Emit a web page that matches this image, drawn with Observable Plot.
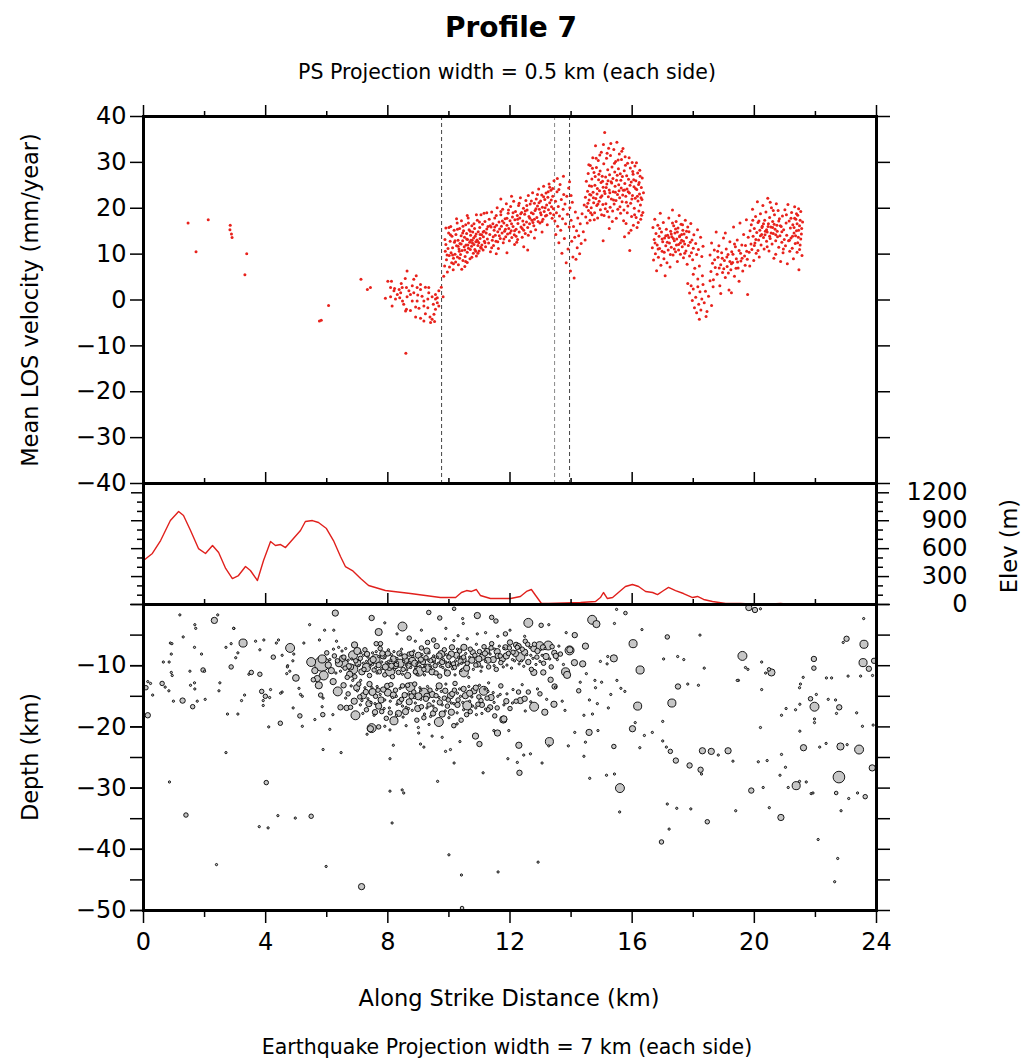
<!DOCTYPE html>
<html><head><meta charset="utf-8">
<script src="https://cdn.jsdelivr.net/npm/d3@7"></script>
<script src="https://cdn.jsdelivr.net/npm/@observablehq/plot@0.6"></script>
<style>
body{margin:0;background:#fff;}
#wrap{position:relative;width:1027px;height:1061px;font-family:"DejaVu Sans",sans-serif;background:#fff;}
#wrap svg{position:absolute;left:0;top:0;overflow:visible;}
</style></head><body><div id="wrap"></div>
<script>
// ---------- text ----------
const titleText = "Profile 7";
const subtitleText = "PS Projection width = 0.5 km (each side)";
const captionText = "Earthquake Projection width = 7 km (each side)";
const xLabel = "Along Strike Distance (km)";
const velLabel = "Mean LOS velocity (mm/year)";
const elevLabel = "Elev (m)";
const depthLabel = "Depth (km)";

// ---------- ticks ----------
const kmLabels = [0,4,8,12,16,20,24];
const kmMinor = [2,6,10,14,18,22];
const velTicks = [-40,-30,-20,-10,0,10,20,30,40];
const elevMajor = [0,300,600,900,1200];
const elevMinor = [100,200,400,500,700,800,1000,1100];
const depthLabels = [-50,-40,-30,-20,-10];
const depthTicks = [-50,-45,-40,-35,-30,-25,-20,-15,-10,-5,0];

// ---------- fault (dashed) lines, km ----------
const faultKm = [9.76, 13.95];
const faultKmLight = [13.46];

// ---------- PS mean LOS velocity [km, mm/yr] ----------
const losWest = [[1.46,16.8],[1.72,10.5],[2.12,17.5],[2.84,16.3],[2.83,15.3],[2.88,14.4],[2.90,13.6],[3.38,10.1],[3.32,5.5],[5.76,-4.6],[5.82,-4.4],[6.06,-1.2],[7.12,4.5],[7.33,2.3],[7.43,2.7]];
const losFault = [[8.00,4.1],[8.12,4.1],[8.63,6.3],[8.93,5.3],[8.57,4.7],[8.44,3.6],[8.22,2.5],[8.37,2.3],[8.61,2.7],[8.80,3.1],[9.07,3.4],[9.23,2.8],[9.34,2.7],[7.92,0.4],[8.09,0.7],[8.25,0.2],[8.39,0.5],[8.48,-0.2],[8.63,0.7],[8.74,1.2],[8.85,1.6],[8.98,1.1],[9.12,0.8],[9.18,-0.2],[9.31,0.2],[9.45,0.7],[9.56,1.2],[9.67,2.0],[9.75,2.8],[9.81,0.7],[8.14,-1.3],[8.52,-0.9],[8.61,-2.0],[8.74,-2.3],[8.91,-1.5],[9.02,-1.8],[9.18,-1.3],[9.31,-1.7],[9.49,-0.9],[9.56,-2.0],[8.58,-2.4],[8.91,-3.7],[9.07,-4.0],[9.23,-3.0],[9.38,-3.7],[9.45,-4.2],[9.53,-4.7],[9.40,-4.9],[9.18,-4.6],[9.51,-3.1],[8.59,-11.6],[8.31,1.2],[8.42,1.6],[8.20,2.0],[9.62,0.5],[9.62,-0.6],[9.67,-1.3],[9.56,0.2],[8.80,-0.2],[8.96,-0.2],[8.69,2.0],[8.47,2.7],[8.85,4.5],[9.07,2.3],[9.34,1.6],[8.09,2.7],[8.96,2.7]];
const losA = [[9.83,5.2],[9.86,7.4],[9.88,10.6],[9.9,12.1],[9.92,8.8],[9.95,6.1],[9.97,11.2],[9.99,14.6],[10.01,9.7],[10.02,7.2],[10.04,12.8],[10.06,16.0],[10.07,10.3],[10.09,8.1],[10.1,13.9],[10.12,11.4],[10.14,6.6],[10.15,9.1],[10.17,15.2],[10.18,12.6],[10.2,10.0],[10.22,8.3],[10.23,14.3],[10.25,11.8],[10.27,16.8],[10.28,9.4],[10.3,13.0],[10.31,7.7],[10.33,11.1],[10.35,15.6],[10.36,12.3],[10.38,9.9],[10.4,14.0],[10.41,17.3],[10.43,10.8],[10.45,12.9],[10.46,8.6],[10.48,15.1],[10.5,11.6],[10.51,13.7],[10.53,9.5],[10.55,16.4],[10.56,12.0],[10.58,14.5],[10.6,10.4],[10.61,13.2],[10.63,17.9],[10.64,11.3],[10.66,15.3],[10.68,12.6],[10.69,9.0],[10.71,14.1],[10.72,13.0],[10.74,11.7],[10.75,16.2],[10.77,12.4],[10.78,14.8],[10.8,10.2],[10.81,13.5],[10.82,12.1],[10.84,15.6],[10.85,11.0],[10.86,13.9],[10.88,12.7],[10.89,14.4],[10.9,9.6],[10.92,13.1],[10.93,17.4],[10.95,11.9],[10.96,14.9],[10.98,12.5],[10.99,10.7],[11.01,15.8],[11.02,13.4],[11.04,11.5],[11.05,18.6],[11.07,14.2],[11.08,12.0],[11.1,16.5],[11.12,10.9],[11.13,13.8],[11.15,15.0],[11.16,12.8],[11.18,17.1],[11.2,11.6],[11.22,14.6],[11.24,19.0],[11.26,13.3],[11.28,16.0],[10.05,14.2],[10.12,9.8],[10.2,12.9],[10.28,15.4],[10.34,10.6],[10.4,12.2],[10.46,16.1],[10.52,10.9],[10.58,13.3],[10.64,16.8],[10.7,11.0],[10.76,13.0],[10.82,16.6],[10.88,10.6],[10.94,12.8],[11.0,17.0],[11.06,11.3],[11.12,14.8],[11.18,12.5],[11.24,15.5],[10.15,7.9],[10.35,9.1],[10.55,8.4],[10.75,9.3],[10.95,10.2],[10.25,17.7],[10.6,18.4],[10.9,18.6],[11.15,18.9],[10.0,15.8],[9.9,15.7],[10.45,14.6],[10.7,15.0],[11.02,14.3],[10.3,11.7],[10.62,12.0],[9.94,9.8],[9.87,13.2],[10.42,6.7],[10.6,8.2],[10.52,7.3]];
const losA2 = [[11.3,12.4],[11.32,17.6],[11.34,14.3],[11.36,10.5],[11.38,15.9],[11.4,19.2],[11.42,13.0],[11.44,16.6],[11.46,11.9],[11.48,15.2],[11.5,17.9],[11.52,14.1],[11.54,12.8],[11.56,16.3],[11.58,20.1],[11.6,14.9],[11.62,11.2],[11.64,17.0],[11.66,15.5],[11.68,13.4],[11.7,18.6],[11.72,16.1],[11.74,14.6],[11.76,19.8],[11.78,12.5],[11.8,16.8],[11.82,15.0],[11.84,17.7],[11.86,13.8],[11.88,21.0],[11.9,16.3],[11.92,14.4],[11.94,18.9],[11.96,15.6],[11.98,12.9],[12.0,17.3],[12.02,20.4],[12.04,15.1],[12.06,13.6],[12.08,18.1],[12.1,16.0],[12.12,21.5],[12.14,14.2],[12.16,17.5],[12.18,19.3],[12.2,15.4],[12.22,12.6],[12.24,18.4],[12.26,16.7],[12.28,20.6],[12.3,14.8],[12.32,17.9],[12.34,22.3],[12.36,15.9],[12.38,19.1],[12.4,13.7],[12.42,17.2],[12.44,20.0],[12.46,16.4],[12.48,18.7],[12.5,14.5],[12.52,21.7],[12.54,17.0],[12.56,19.6],[12.58,15.8],[12.6,22.8],[12.62,18.2],[12.64,16.6],[12.66,20.9],[12.68,14.9],[12.7,19.0],[12.72,17.4],[12.74,23.4],[12.76,18.8],[12.78,16.2],[12.8,21.1],[12.82,19.5],[12.84,15.3],[12.86,22.0],[12.88,18.0],[12.9,20.5],[12.92,17.1],[12.94,24.2],[12.96,19.8],[12.98,16.8],[13.0,21.6],[13.02,18.6],[13.04,22.9],[13.06,20.2],[13.08,17.6],[13.1,24.8],[13.12,19.3],[13.14,21.9],[13.16,18.3],[13.18,23.3],[13.2,20.7],[13.22,16.4],[13.24,22.4],[13.26,19.7],[13.28,25.3],[13.3,21.2],[13.32,18.9],[13.34,23.9],[13.36,20.3],[13.38,17.8],[13.4,22.6],[13.42,19.9],[13.44,26.0],[11.9,10.3],[12.15,12.1],[12.45,11.6],[12.58,10.9],[12.25,13.2],[11.55,10.1],[12.8,13.5],[13.05,14.8],[11.7,22.0],[12.05,22.6],[11.35,16.2],[11.45,13.8],[11.55,18.4],[11.65,14.0],[11.75,17.2],[11.85,15.4],[11.95,19.6],[12.05,16.6],[12.15,15.1],[12.25,17.6],[12.35,18.8],[12.45,15.2],[12.55,20.6],[12.65,17.8],[12.75,16.9],[12.85,19.9],[12.95,21.2],[13.05,17.1],[13.15,20.1],[13.25,23.6],[13.35,21.8],[13.43,18.6],[11.4,11.4],[11.6,12.7],[11.8,13.3],[12.0,14.6],[12.2,13.9],[12.4,15.6],[12.6,14.1],[12.8,17.6],[13.0,19.0],[13.2,18.5],[13.4,24.3],[11.5,15.9],[11.7,19.3],[11.9,17.8],[12.1,19.0],[12.3,21.1],[12.5,19.4],[12.7,21.6],[12.9,23.0],[13.1,22.5],[13.3,24.6]];
const losB = [[13.47,17.2],[13.49,21.5],[13.5,14.3],[13.52,19.0],[13.54,23.6],[13.56,16.1],[13.58,20.4],[13.6,12.5],[13.62,18.3],[13.64,25.2],[13.66,15.2],[13.68,21.9],[13.7,10.2],[13.72,17.7],[13.74,19.8],[13.76,23.0],[13.78,13.4],[13.8,20.9],[13.82,16.6],[13.84,8.1],[13.86,22.6],[13.88,18.7],[13.9,11.1],[13.92,24.4],[13.94,15.9],[13.96,20.1],[13.98,6.3],[14.0,17.4],[14.02,12.8],[14.04,21.3],[14.06,9.4],[14.08,16.0],[14.1,4.8],[14.12,13.7],[14.14,19.2],[14.16,8.9],[14.18,15.1],[14.2,11.4],[14.22,17.9],[14.25,14.0],[14.28,10.1],[14.3,16.6],[14.33,12.3],[14.36,18.8],[14.4,14.9],[14.43,20.7],[14.46,13.1],[13.55,26.5],[13.75,27.0],[13.95,25.8],[13.6,24.1],[14.0,22.8]];
const losC = [[14.47,22.4],[14.48,18.1],[14.5,25.9],[14.51,20.3],[14.53,16.8],[14.54,23.7],[14.56,27.6],[14.57,19.5],[14.59,21.8],[14.6,24.9],[14.62,17.4],[14.63,29.3],[14.65,22.9],[14.66,20.1],[14.68,26.4],[14.69,18.6],[14.71,31.0],[14.72,23.5],[14.74,21.2],[14.75,27.8],[14.77,19.0],[14.78,25.0],[14.8,33.6],[14.81,22.1],[14.83,28.9],[14.84,20.6],[14.86,24.3],[14.87,17.9],[14.89,30.4],[14.9,26.2],[14.92,21.5],[14.93,23.8],[14.95,28.1],[14.96,19.7],[14.98,25.6],[14.99,32.2],[15.01,22.7],[15.02,27.0],[15.04,20.8],[15.05,24.6],[15.07,29.7],[15.08,18.4],[15.1,36.5],[15.11,23.2],[15.13,26.8],[15.14,21.0],[15.16,30.9],[15.17,25.3],[15.19,19.3],[15.2,28.4],[15.22,22.5],[15.23,33.1],[15.25,24.0],[15.26,27.3],[15.28,20.2],[15.29,31.5],[15.31,25.8],[15.32,22.0],[15.34,29.0],[15.35,17.1],[15.37,26.5],[15.38,23.6],[15.4,32.8],[15.41,20.9],[15.43,27.9],[15.44,24.8],[15.46,30.2],[15.47,21.7],[15.49,26.1],[15.5,34.4],[15.52,23.0],[15.53,19.8],[15.55,28.6],[15.56,25.1],[15.58,31.8],[15.59,22.3],[15.61,27.5],[15.62,18.9],[15.64,24.4],[15.65,30.6],[15.67,21.4],[15.68,26.9],[15.7,33.0],[15.71,23.9],[15.73,19.6],[15.74,28.2],[15.76,25.4],[15.77,31.2],[15.79,22.6],[15.8,16.7],[15.82,27.1],[15.83,24.2],[15.85,29.8],[15.86,20.5],[15.88,26.3],[15.89,14.6],[15.91,23.3],[15.92,10.8],[15.94,28.8],[15.95,21.1],[15.97,25.7],[15.98,18.2],[16.0,30.0],[16.01,22.8],[16.03,27.4],[16.04,16.3],[16.06,24.7],[16.07,20.0],[16.09,29.2],[16.1,22.2],[16.12,26.0],[16.13,18.0],[16.15,24.1],[16.16,15.8],[16.18,27.7],[16.19,21.6],[16.21,25.2],[16.22,19.4],[16.24,23.1],[16.25,28.3],[16.27,20.7],[16.28,17.6],[16.3,24.5],[16.32,21.9],[16.33,26.6],[16.35,19.1],[16.37,23.4],[14.55,21.1],[14.61,23.0],[14.67,24.8],[14.73,22.3],[14.79,26.9],[14.85,23.1],[14.91,27.4],[14.97,22.4],[15.03,25.9],[15.09,23.7],[15.15,24.5],[15.21,26.0],[15.27,23.4],[15.33,25.5],[15.39,21.8],[15.45,23.5],[15.51,27.2],[15.57,23.8],[15.63,26.1],[15.69,22.9],[15.75,24.0],[15.81,21.3],[15.87,23.6],[15.93,25.0],[15.99,22.0],[16.05,26.2],[16.11,24.3],[16.17,22.6],[16.23,25.6],[16.29,22.3],[14.64,19.0],[14.76,17.5],[14.88,20.9],[15.0,18.6],[15.12,19.9],[15.24,18.1],[15.36,19.4],[15.48,17.8],[15.6,20.3],[15.72,17.3],[15.84,19.0],[15.96,15.2],[16.08,18.6],[16.2,16.9],[16.31,18.5],[14.7,28.7],[14.82,30.9],[14.94,31.6],[15.06,33.9],[15.18,32.0],[15.3,34.1],[15.42,29.8],[15.54,30.5],[15.66,32.4],[15.78,29.4],[15.9,31.0],[16.02,28.0],[16.14,29.9],[16.26,27.0],[14.58,29.5],[15.05,12.9],[15.75,13.8],[15.25,15.6]];
const losD = [[16.66,11.4],[16.68,15.8],[16.7,8.7],[16.72,13.2],[16.74,17.6],[16.76,10.1],[16.78,14.5],[16.8,6.4],[16.82,12.0],[16.84,16.3],[16.86,9.3],[16.88,13.9],[16.9,11.2],[16.92,18.9],[16.94,7.6],[16.96,14.8],[16.98,10.6],[17.0,12.7],[17.02,16.9],[17.04,9.0],[17.06,13.5],[17.08,5.3],[17.1,11.8],[17.12,15.4],[17.14,8.1],[17.16,14.1],[17.18,10.9],[17.2,17.9],[17.22,12.4],[17.24,7.2],[17.26,15.0],[17.28,11.5],[17.3,13.8],[17.32,19.6],[17.34,9.8],[17.36,16.2],[17.38,12.9],[17.4,14.6],[17.42,10.5],[17.44,17.1],[17.46,13.3],[17.48,8.4],[17.5,15.7],[17.52,12.1],[17.54,18.4],[17.56,14.0],[17.58,10.0],[17.6,16.5],[17.62,13.0],[17.64,11.6],[17.66,15.2],[17.68,9.2],[17.7,14.4],[17.72,12.2],[17.74,17.4],[17.76,10.7],[17.78,13.6],[17.8,7.8],[17.82,15.9],[17.84,11.9],[17.86,14.9],[17.88,9.6],[17.9,12.6],[17.92,16.7],[17.94,10.3],[17.96,13.1],[17.98,8.8],[18.0,11.3],[18.02,14.2],[18.05,6.9],[18.08,12.3],[18.11,9.9],[18.14,15.3],[18.17,11.0],[18.2,7.4],[18.24,13.7],[18.28,9.5],[18.32,11.7],[17.35,13.4],[17.45,12.0],[17.55,13.8],[17.48,14.8],[17.62,14.3],[17.38,11.1],[17.52,10.9],[17.28,14.4],[17.68,12.8],[17.58,12.5],[17.42,15.5],[17.72,10.2],[17.2,13.6],[17.1,14.0],[16.98,13.3],[16.85,11.1],[17.05,10.4],[17.15,12.6],[17.25,9.9],[17.65,16.4],[17.78,15.0],[17.32,16.8],[16.75,12.4],[16.9,15.6]];
const losDip = [[17.82,3.6],[17.88,1.5],[17.93,3.1],[17.97,-0.1],[18.0,2.4],[18.04,-1.7],[18.08,0.6],[18.11,-2.8],[18.15,2.9],[18.18,-0.9],[18.2,-4.2],[18.22,1.8],[18.25,-2.2],[18.28,0.2],[18.32,3.4],[18.36,-0.6],[18.4,1.9],[18.45,-2.5],[18.5,0.8],[18.55,4.2],[18.6,-1.2],[18.15,4.6],[18.3,5.3],[18.0,5.6],[18.42,-3.6]];
const losE = [[18.55,9.8],[18.58,6.2],[18.6,12.4],[18.63,8.0],[18.66,4.4],[18.69,10.9],[18.72,7.1],[18.75,14.8],[18.78,5.6],[18.81,9.3],[18.84,11.8],[18.87,3.1],[18.9,7.7],[18.93,10.3],[18.96,6.0],[18.99,13.5],[19.02,8.6],[19.05,4.9],[19.08,11.1],[19.11,7.3],[19.14,9.9],[19.17,2.2],[19.2,12.7],[19.23,6.6],[19.26,10.5],[19.29,8.2],[19.32,15.9],[19.35,5.2],[19.38,11.6],[19.41,9.0],[19.44,13.1],[19.47,7.0],[19.5,10.8],[19.53,16.8],[19.56,8.5],[19.59,12.0],[19.62,6.3],[19.65,14.3],[19.68,9.6],[19.71,11.9],[19.74,17.5],[19.77,8.9],[19.8,13.7],[19.83,10.4],[19.86,15.1],[19.89,12.2],[18.7,8.8],[18.85,7.0],[19.0,6.8],[19.1,9.4],[19.15,5.9],[19.25,7.9],[19.3,10.0],[19.4,6.9],[19.45,8.3],[19.55,10.2],[19.6,9.1],[19.7,7.6],[19.75,10.6],[19.2,8.4],[18.95,9.1],[18.8,10.6],[19.35,12.2],[19.5,4.1],[18.65,2.9],[19.05,14.6],[19.85,7.4],[18.9,1.4],[19.25,1.6],[19.78,1.2]];
const losF = [[19.9,16.4],[19.92,11.0],[19.94,19.8],[19.96,13.9],[19.98,8.6],[20.0,15.6],[20.02,12.4],[20.04,18.2],[20.06,10.2],[20.08,14.7],[20.1,21.4],[20.12,16.9],[20.14,13.1],[20.16,9.4],[20.18,15.2],[20.2,18.8],[20.22,12.0],[20.24,14.3],[20.26,16.1],[20.28,20.6],[20.3,13.6],[20.32,11.1],[20.34,17.4],[20.36,15.0],[20.38,19.2],[20.4,12.8],[20.42,14.8],[20.44,22.2],[20.46,16.6],[20.48,10.7],[20.5,18.0],[20.52,13.4],[20.54,15.9],[20.56,20.1],[20.58,12.2],[20.6,17.1],[20.62,14.5],[20.64,9.1],[20.66,18.6],[20.68,15.4],[20.7,12.9],[20.72,21.0],[20.74,16.3],[20.76,13.8],[20.78,19.5],[20.8,11.5],[20.82,17.7],[20.84,14.0],[20.86,8.4],[20.88,16.0],[20.9,12.6],[20.92,18.3],[20.94,10.3],[20.96,15.3],[20.98,13.2],[21.0,19.7],[21.02,11.8],[21.04,16.8],[21.06,14.1],[21.08,7.9],[21.1,20.8],[21.12,12.9],[21.14,17.2],[21.16,10.6],[21.18,15.7],[21.2,13.5],[21.22,19.1],[21.24,11.3],[21.26,16.4],[21.28,9.0],[21.3,14.6],[21.32,20.3],[21.34,12.3],[21.36,17.6],[21.38,15.1],[21.4,10.4],[21.42,18.5],[21.44,13.7],[21.46,6.6],[21.48,16.2],[21.5,12.0],[21.52,19.3],[21.54,14.4],[21.56,9.7],[21.58,17.0],[20.15,17.2],[20.25,15.8],[20.35,14.2],[20.45,16.0],[20.55,14.6],[20.65,16.5],[20.75,15.0],[20.85,16.2],[20.2,14.0],[20.3,16.6],[20.4,15.3],[20.5,13.9],[20.6,15.8],[20.7,14.2],[20.8,17.2],[20.9,14.9],[21.3,15.8],[21.35,14.0],[21.4,16.6],[21.45,15.2],[21.5,17.4],[21.52,13.3],[21.42,12.5],[21.32,17.8],[21.25,13.9],[21.55,15.6],[21.48,11.0],[21.38,18.8],[21.45,19.9],[21.2,17.8],[20.05,13.2],[19.95,17.4],[20.0,11.9],[20.12,10.8],[20.42,11.6],[20.62,19.5],[20.52,21.3],[20.7,10.0],[21.05,18.6],[20.95,11.1],[21.15,13.0]];
const losAll = [...losWest, ...losFault, ...losA, ...losA2, ...losB, ...losC, ...losD, ...losDip, ...losE, ...losF];

// ---------- topography [km, m] ----------
const elevKm = [0,0.29,0.56,0.88,1.15,1.31,1.54,1.80,2.03,2.26,2.46,2.69,2.91,3.11,3.34,3.50,3.73,3.93,4.16,4.32,4.49,4.65,4.91,5.14,5.30,5.53,5.73,5.99,6.22,6.45,6.61,6.84,7.11,7.37,7.92,8.74,9.72,10.22,10.41,10.58,10.74,10.90,11.03,11.36,12.02,12.34,12.54,12.70,12.84,13.03,13.26,14.31,14.80,14.96,15.06,15.19,15.36,15.55,15.78,16.01,16.21,16.44,16.67,16.83,17.03,17.19,17.42,17.68,17.98,18.14,18.34,18.63,19.06,19.55,20.2,20.86,21.19,21.5];
const elevM = [473,548,687,902,999,956,795,601,548,634,558,387,279,311,408,365,258,473,677,634,644,612,709,795,892,902,881,816,687,516,408,365,279,204,150,118,75,75,129,150,140,161,97,64,64,86,140,161,97,11,11,21,32,75,129,64,75,129,193,215,193,140,129,107,150,183,150,118,75,86,54,32,11,11,0,11,0,5];
const elev = elevKm.map((k, i) => ({km: k, m: elevM[i]}));

// ---------- earthquakes [km, depth km, magnitude] ----------
const quakesWest = [[1.19,-1.7,.5],[2.32,-2.6,1.4],[2.43,-1.7,.5],[1.68,-3.3,.5],[1.71,-3.9,.5],[2.96,-3.9,.5],[1.30,-5.3,.5],[0.88,-6.3,.5],[0.93,-6.4,.5],[1.67,-7.0,.5],[0.91,-8.1,.5],[1.90,-8.1,.5],[0.65,-9.4,.5],[0.84,-9.4,.5],[1.52,-10.9,.5],[1.95,-10.7,1.0],[2.0,-10.9,.5],[0.91,-11.1,.5],[0.94,-11.6,.5],[0.14,-12.6,.5],[0.23,-12.9,.5],[0.61,-12.9,1.0],[0.71,-13.5,.5],[0.08,-13.6,1.0],[0.30,-14.8,.5],[0.83,-14.1,.5],[1.54,-13.2,.5],[1.67,-12.8,.5],[1.68,-13.8,.5],[0.98,-15.8,.5],[1.28,-15.7,1.2],[1.61,-16.7,1.0],[1.76,-15.8,.5],[2.02,-15.5,.5],[0.14,-18.1,1.2],[2.47,-14.1,.5],[2.50,-12.8,.5],[2.70,-7.0,.5],[2.87,-6.4,.5],[3.09,-7.9,.5],[2.95,-3.9,.5],[2.87,-10.2,1.0],[3.26,-6.3,1.8],[3.02,-8.7,.5],[2.75,-17.9,.5],[3.09,-17.9,.5],[3.31,-14.8,.5],[3.21,-15.7,.5],[3.45,-11.4,.5],[3.81,-11.4,1.0],[3.53,-11.1,1.0],[3.67,-6.0,.5],[3.81,-7.4,.5],[3.94,-5.8,.5],[3.87,-14.2,1.0],[3.99,-15.0,1.0],[3.92,-15.7,.5],[3.92,-16.5,.5],[4.13,-15.2,.5],[4.16,-13.9,.5],[4.25,-8.6,1.0],[4.10,-20.0,.5],[4.35,-6.3,.5],[4.42,-5.8,.5],[4.54,-8.3,.5],[4.80,-7.1,2.0],[4.48,-19.4,1.0],[4.72,-10.0,.5],[4.89,-9.2,.5],[4.92,-8.1,.5],[4.54,-14.3,.5],[4.49,-14.5,.5],[4.69,-11.3,.5],[4.79,-10.9,.5],[4.71,-10.2,.5],[4.99,-12.0,1.5],[4.90,-16.9,.5],[5.14,-14.7,.5],[5.20,-15.0,.5],[5.09,-13.7,.5],[5.12,-18.2,1.0],[5.20,-19.9,.5],[5.25,-6.3,.5],[5.44,-3.3,.5],[1.39,-34.4,1.0],[0.85,-29.0,.5],[2.39,-42.5,.5],[2.70,-24.2,.5],[4.02,-29.1,1.0],[4.40,-34.5,.5],[4.97,-34.9,.5],[5.49,-34.6,1.0],[3.79,-36.3,.5],[4.08,-36.5,.5]];
const quakesMid = [[5.49,-9.4,2.0],[5.84,-9.7,3.3],[5.61,-10.8,1.4],[5.69,-12.1,1.4],[5.56,-12.3,1.0],[5.74,-13.2,1.6],[5.90,-11.6,2.0],[5.85,-8.9,1.8],[5.80,-14.8,1.0],[5.88,-15.3,.5],[5.85,-16.7,.5],[6.20,-18.0,.5],[5.87,-18.0,1.0],[5.61,-18.8,.5],[6.10,-20.4,.5],[5.88,-23.7,.5],[6.47,-24.2,.5],[6.28,-1.4,1.4],[5.93,-4.2,.5],[6.23,-4.2,.5],[5.76,-5.8,.5],[6.32,-6.0,.5],[6.21,-12.6,1.4],[6.36,-14.2,2.0],[6.45,-16.8,1.2],[6.65,-16.9,1.2],[6.39,-7.0,.5],[6.56,-8.6,1.0],[6.56,-9.7,2.0],[6.86,-8.3,2.0],[6.91,-6.6,1.4],[6.78,-10.2,1.4],[6.87,-10.6,2.0],[6.67,-11.9,1.0],[6.85,-12.4,.5],[7.11,-12.4,.5],[6.94,-18.1,2.0],[7.47,-2.2,1.2],[7.70,-4.5,1.6],[8.48,-3.6,2.0],[7.62,-6.4,1.0],[7.76,-6.4,1.0],[7.47,-20.2,2.0],[7.70,-20.0,1.0],[7.32,-21.2,.5],[8.18,-23.0,.5],[8.07,-25.2,.5],[8.07,-30.5,.5],[8.47,-30.3,.5],[8.52,-30.8,.5],[8.14,-35.7,.5],[7.14,-46.1,1.4],[5.98,-42.8,.5],[10.0,-40.9,.5],[10.41,-44.2,.5],[11.61,-43.7,.5],[10.43,-49.6,.8],[11.12,-27.5,.5],[9.63,-28.9,.5],[10.17,-25.9,.5],[11.0,-22.8,1.2],[10.87,-21.5,1.4],[11.59,-21.0,1.4],[11.78,-18.8,1.6],[11.93,-25.2,.5],[9.89,-24.0,.5],[10.05,-23.7,.5],[9.45,-21.5,.5],[9.78,-21.7,.5],[9.07,-22.8,.5],[9.18,-23.3,.5],[9.01,-21.0,.5],[10.36,-22.4,.5],[10.93,-1.8,1.4],[11.40,-2.1,1.0],[11.54,-2.7,1.0],[9.34,-1.3,1.0],[9.70,-2.2,1.0],[10.17,-0.7,.8],[10.45,-2.3,.5],[10.47,-3.1,.5]];
const quakesUpper = [[6.0,-7.9,1.0],[6.1,-9.0,.5],[6.15,-10.8,1.4],[6.25,-8.4,1.0],[6.3,-11.2,.5],[6.4,-9.6,1.6],[6.45,-10.9,.5],[6.5,-7.6,.5],[6.6,-10.4,1.0],[6.7,-9.1,.5],[6.75,-11.4,1.4],[6.95,-9.2,1.0],[7.0,-7.6,1.6],[7.05,-10.0,.5],[7.1,-8.8,1.0],[7.15,-11.0,1.4],[7.2,-9.6,.5],[7.25,-7.4,1.0],[7.3,-10.3,1.8],[7.35,-8.6,.5],[7.4,-11.6,1.0],[7.45,-9.3,1.4],[7.5,-7.9,.5],[7.55,-10.7,1.0],[7.6,-8.9,2.0],[7.65,-11.2,.5],[7.7,-9.9,1.2],[7.75,-7.2,1.0],[7.8,-10.5,.5],[7.85,-8.4,1.4],[7.9,-11.5,1.0],[7.95,-9.5,.5],[8.0,-8.0,1.2],[8.05,-10.2,1.6],[8.07,-10.9,2.2],[8.1,-9.1,.5],[8.15,-11.8,1.0],[8.2,-7.7,.5],[8.25,-10.0,1.4],[8.3,-8.8,.5],[8.35,-11.1,1.0],[8.4,-9.6,1.8],[8.45,-7.3,.5],[8.5,-10.6,1.0],[8.55,-8.5,1.2],[8.6,-9.9,.5],[8.65,-11.6,1.4],[8.7,-8.1,1.0],[8.75,-10.3,.5],[8.8,-9.2,1.6],[8.85,-7.6,.5],[8.9,-11.0,1.0],[8.95,-9.7,.5],[9.0,-8.3,1.4],[9.01,-10.9,2.2],[9.05,-10.1,.5],[9.1,-7.1,1.0],[9.15,-9.4,1.2],[9.2,-11.5,.5],[9.25,-8.7,1.0],[9.3,-10.4,1.8],[9.35,-7.9,.5],[9.4,-9.2,1.0],[9.45,-11.0,1.4],[9.5,-8.4,.5],[9.55,-10.0,1.0],[9.6,-6.8,1.2],[9.65,-9.6,.5],[9.7,-11.7,1.0],[9.75,-8.1,1.6],[9.8,-10.3,.5],[9.85,-7.4,1.0],[9.9,-9.4,.5],[9.95,-11.2,1.4],[10.0,-8.6,1.0],[10.05,-10.0,.5],[10.1,-7.0,1.2],[10.15,-9.7,1.0],[10.2,-11.5,.5],[10.25,-8.3,1.4],[10.3,-9.9,.5],[10.35,-7.6,1.0],[10.4,-10.8,.5],[10.45,-9.0,1.6],[10.49,-7.0,1.4],[10.49,-11.1,2.0],[10.55,-8.0,.5],[10.6,-9.6,1.0],[10.65,-11.9,.5],[10.7,-7.3,1.0],[10.75,-9.1,1.4],[10.8,-10.6,.5],[10.85,-8.3,1.0],[10.9,-6.5,.5],[10.95,-9.8,1.2],[11.0,-7.7,1.0],[11.05,-10.9,.5],[11.09,-8.6,1.4],[11.15,-6.9,1.0],[11.2,-9.3,.5],[11.25,-7.6,1.2],[11.3,-10.2,1.0],[11.35,-8.1,.5],[11.4,-6.4,1.0],[11.45,-9.0,1.4],[11.5,-7.3,.5],[11.55,-10.6,1.0],[11.6,-8.4,1.2],[11.65,-6.8,.5],[11.7,-9.5,1.0],[11.75,-8.9,1.4],[11.8,-7.2,.5],[11.85,-7.0,1.2],[11.9,-9.9,.5],[11.95,-8.0,1.0],[12.0,-6.2,1.2],[12.05,-10.4,.5],[12.1,-7.8,1.0],[12.15,-9.2,.5],[12.2,-6.6,1.2],[12.24,-7.0,1.0],[12.3,-9.7,.5],[12.34,-8.6,2.0],[12.4,-7.3,1.0],[12.45,-10.1,.5],[12.5,-6.0,1.0],[12.55,-8.2,.5],[12.6,-9.4,1.2],[12.65,-7.0,.5],[12.7,-10.6,1.0],[12.75,-8.8,.5],[12.8,-6.5,1.0],[12.85,-9.8,.5],[12.9,-7.6,1.2],[12.97,-6.8,2.0],[13.05,-8.3,.5],[13.1,-9.6,1.0],[13.15,-7.2,.5],[13.25,-6.7,2.0],[13.3,-8.9,.5],[13.35,-10.2,1.0],[13.45,-7.9,1.2],[13.55,-9.0,.5],[13.65,-8.1,1.0],[13.75,-9.8,.5],[13.96,-7.4,1.4],[14.11,-9.5,1.4],[14.38,-9.7,1.4],[14.5,-11.3,.5],[13.82,-11.0,1.8],[13.87,-11.5,1.6],[12.78,-11.1,1.4],[13.09,-11.1,1.2],[7.9,-8.7,.5],[8.02,-9.3,.5],[8.12,-8.2,.5],[8.22,-10.6,.5],[8.32,-9.5,.5],[8.42,-8.2,.5],[8.52,-9.3,.5],[8.62,-10.7,.5],[8.72,-9.5,.5],[8.82,-8.5,.5],[8.92,-10.3,.5],[9.02,-9.4,.5],[9.12,-8.2,.5],[9.22,-10.0,.5],[9.32,-9.1,.5],[9.42,-10.5,.5],[9.52,-9.4,.5],[9.62,-8.6,.5],[9.72,-10.1,.5],[9.82,-9.0,.5],[9.92,-8.2,.5],[10.02,-9.4,.5],[10.12,-10.5,.5],[10.22,-9.2,.5],[10.32,-8.6,.5],[10.42,-9.6,.5],[7.5,-9.8,.5],[7.6,-10.3,.5],[7.7,-8.5,.5],[7.8,-9.4,.5],[7.3,-9.3,.5],[7.2,-8.3,.5],[7.9,-3.0,.5],[8.3,-4.8,.5],[8.7,-5.5,1.0],[9.1,-4.2,.5],[9.5,-5.8,1.0],[9.9,-3.9,.5],[10.3,-5.1,.5],[10.6,-5.6,.5],[10.93,-4.8,.5],[11.2,-4.6,.5],[11.6,-5.2,.5],[11.85,-4.8,1.0],[12.48,-5.2,.5],[12.0,-4.2,.5],[8.9,-6.0,.5],[9.3,-6.2,1.0],[10.16,-5.9,.5],[9.89,-5.6,.5]];
const quakesUpper2 = [[6.05,-9.9,1.4],[6.22,-7.3,.5],[6.35,-9.2,1.0],[6.52,-8.8,1.4],[6.62,-7.2,.5],[6.72,-10.1,1.2],[6.82,-8.9,.5],[6.92,-11.8,1.0],[7.02,-9.6,1.4],[7.12,-7.9,.5],[7.22,-10.6,1.0],[7.32,-8.1,1.2],[7.42,-10.1,.5],[7.52,-9.0,1.4],[7.62,-7.7,.5],[7.72,-11.0,1.0],[7.82,-8.0,1.2],[7.92,-10.2,1.4],[8.02,-7.4,.5],[8.12,-10.0,1.2],[8.18,-8.9,1.4],[8.28,-9.8,1.0],[8.38,-8.0,1.2],[8.48,-11.4,.5],[8.58,-9.1,1.4],[8.68,-10.0,1.2],[8.78,-8.0,1.0],[8.88,-9.6,1.4],[8.98,-11.4,.5],[9.08,-9.0,1.2],[9.18,-10.6,1.0],[9.28,-7.6,1.4],[9.38,-10.0,.5],[9.48,-9.0,1.2],[9.58,-11.2,1.0],[9.68,-8.4,1.4],[9.78,-9.4,1.2],[9.88,-10.7,.5],[9.98,-9.9,1.2],[10.08,-8.1,1.4],[10.18,-10.3,1.0],[10.28,-7.3,.5],[10.38,-9.3,1.2],[10.48,-8.6,1.0],[10.58,-10.4,1.4],[10.68,-8.6,.5],[10.78,-7.8,1.2],[10.88,-9.9,1.0],[10.98,-8.9,1.4],[11.08,-10.2,.5],[11.18,-8.0,1.2],[11.28,-9.1,1.4],[11.38,-7.1,1.0],[11.48,-10.0,.5],[11.58,-7.7,1.4],[11.68,-8.4,1.0],[11.78,-10.2,.5],[11.88,-8.4,1.4],[11.98,-7.1,1.0],[12.08,-9.0,.5],[12.18,-8.0,1.4],[12.28,-6.8,1.2],[12.38,-9.2,.5],[12.48,-7.8,1.4],[12.58,-6.5,1.0],[12.68,-8.3,.5],[12.78,-7.2,1.4],[12.88,-8.6,1.0],[12.98,-9.3,.5],[13.08,-7.0,1.2],[13.18,-8.5,1.4],[13.38,-6.9,1.0],[13.5,-8.4,1.2],[13.6,-6.8,.5]];
const quakesLower = [[6.7,-14.6,1.0],[6.8,-13.3,.5],[6.9,-15.8,1.4],[7.0,-14.1,.5],[7.05,-13.0,1.0],[7.1,-16.4,.5],[7.2,-14.9,1.4],[7.25,-13.6,.5],[7.3,-17.2,1.0],[7.35,-15.4,.5],[7.4,-13.0,1.2],[7.45,-16.0,.5],[7.5,-14.3,1.6],[7.55,-18.1,.5],[7.6,-15.0,1.0],[7.65,-13.4,.5],[7.7,-16.6,1.4],[7.75,-14.7,.5],[7.8,-17.5,1.0],[7.85,-13.9,1.2],[7.9,-15.6,.5],[7.95,-18.6,1.0],[8.0,-14.4,1.6],[8.05,-16.9,.5],[8.1,-13.1,1.0],[8.15,-15.2,.5],[8.2,-19.0,1.8],[8.25,-14.0,1.0],[8.3,-16.3,.5],[8.35,-17.8,1.4],[8.4,-13.7,.5],[8.45,-15.5,1.0],[8.5,-18.4,.5],[8.55,-14.8,1.2],[8.6,-16.8,.5],[8.65,-13.2,1.0],[8.7,-15.9,1.4],[8.74,-13.5,2.0],[8.8,-17.3,.5],[8.85,-14.3,1.0],[8.9,-16.1,.5],[8.95,-18.9,1.0],[9.0,-15.0,1.6],[9.05,-13.6,.5],[9.1,-16.7,1.0],[9.18,-14.4,2.0],[9.2,-17.9,.5],[9.25,-15.4,1.2],[9.3,-13.4,.5],[9.35,-16.4,1.0],[9.4,-18.3,.5],[9.45,-14.7,1.4],[9.5,-15.8,.5],[9.55,-17.2,1.0],[9.6,-13.9,.5],[9.67,-19.2,2.0],[9.7,-16.0,1.2],[9.75,-14.2,.5],[9.78,-17.9,1.4],[9.85,-15.3,1.0],[9.9,-13.0,.5],[9.95,-16.6,1.0],[10.0,-18.5,.5],[10.05,-14.9,1.4],[10.11,-14.6,1.2],[10.16,-16.2,.5],[10.2,-12.9,1.0],[10.27,-17.7,.5],[10.3,-15.6,1.0],[10.35,-13.8,.5],[10.4,-18.9,1.0],[10.45,-16.0,.5],[10.54,-14.9,1.4],[10.6,-16.5,2.0],[10.65,-13.4,.5],[10.7,-17.5,1.0],[10.75,-15.1,.5],[10.82,-14.1,1.4],[10.9,-18.0,.5],[10.95,-16.3,1.0],[11.0,-13.2,.5],[11.05,-15.7,1.0],[11.14,-14.1,2.0],[11.2,-17.1,.5],[11.25,-15.3,1.0],[11.3,-12.8,.5],[11.35,-16.8,1.2],[11.45,-14.4,.5],[11.5,-18.2,1.0],[11.6,-15.0,.5],[11.7,-13.3,1.0],[11.8,-16.4,.5],[11.8,-18.7,1.4],[11.9,-14.6,.5],[12.0,-17.0,1.0],[12.1,-13.9,.5],[12.2,-15.8,1.0],[12.34,-15.7,1.4],[12.4,-13.1,.5],[12.5,-17.4,.5],[12.6,-14.3,1.0],[12.79,-16.7,2.0],[12.9,-13.8,.5],[13.14,-17.6,1.4],[13.44,-16.3,1.4],[13.33,-12.3,1.2],[13.46,-13.4,1.2],[13.49,-13.5,.5],[13.71,-15.8,.5],[13.8,-17.3,.5],[14.42,-18.1,.5],[12.29,-23.0,1.4],[10.16,-19.8,1.0],[10.27,-19.5,.5],[11.47,-20.6,.5],[11.96,-20.6,.5],[8.07,-20.5,.5],[8.6,-19.8,.5],[9.0,-20.1,.5],[9.35,-19.6,.5],[7.9,-19.9,.5],[7.43,-20.3,1.4],[7.15,-15.7,.5],[7.58,-16.2,.5],[8.08,-15.8,.5],[8.28,-15.0,.5],[8.48,-16.6,.5],[8.68,-14.6,.5],[8.88,-15.2,.5],[9.08,-15.5,.5],[9.28,-16.9,.5],[9.48,-16.6,.5],[9.68,-15.2,.5],[9.88,-17.4,.5],[10.08,-16.1,.5],[10.28,-14.5,.5],[10.48,-17.2,.5],[10.68,-15.8,.5],[10.88,-16.9,.5],[11.08,-17.8,.5],[11.28,-14.2,.5],[11.48,-16.0,.5]];
const quakesLower2 = [[6.55,-13.2,1.2],[6.62,-15.3,.5],[6.78,-16.8,1.0],[6.98,-13.6,1.4],[7.08,-15.1,1.0],[7.18,-17.8,.5],[7.28,-14.3,1.2],[7.38,-16.2,1.4],[7.48,-13.6,.5],[7.58,-17.6,1.2],[7.68,-14.0,1.0],[7.78,-15.6,1.4],[7.88,-17.0,.5],[7.98,-13.3,1.2],[8.08,-17.7,1.0],[8.18,-14.8,1.4],[8.28,-18.1,.5],[8.38,-15.9,1.2],[8.48,-13.3,1.0],[8.58,-17.5,1.4],[8.68,-17.0,.5],[8.78,-15.0,1.2],[8.88,-13.0,1.0],[8.98,-17.0,1.4],[9.08,-14.0,.5],[9.18,-18.5,1.0],[9.28,-15.0,1.4],[9.38,-14.0,1.0],[9.48,-17.8,1.2],[9.58,-14.9,1.0],[9.68,-13.3,1.4],[9.78,-16.4,.5],[9.88,-14.1,1.2],[9.98,-15.6,1.0],[10.08,-17.6,1.4],[10.18,-14.0,1.0],[10.28,-16.4,1.2],[10.38,-15.0,.5],[10.48,-13.8,1.2],[10.58,-18.0,1.0],[10.68,-14.5,1.4],[10.78,-16.6,.5],[10.88,-13.6,1.2],[10.98,-15.1,1.0],[11.08,-16.4,1.2],[11.18,-13.8,.5],[11.28,-17.2,1.0],[11.38,-15.2,1.4],[11.58,-16.9,1.0],[11.68,-14.7,.5],[11.88,-15.8,1.2],[12.08,-16.1,.5],[12.28,-14.3,1.0],[12.48,-15.4,1.2],[12.68,-15.9,.5],[12.98,-14.6,1.0],[13.2,-15.5,.5]];
const quakesEast = [[12.6,-3.0,2.0],[13.02,-3.4,1.0],[13.27,-3.3,.5],[14.69,-2.5,2.0],[14.83,-3.2,1.6],[15.42,-3.1,.5],[15.49,-0.8,.5],[15.78,-1.4,.8],[16.03,-6.4,1.8],[16.32,-4.1,.5],[16.26,-10.7,1.8],[16.18,-16.6,1.8],[16.01,-20.3,1.4],[16.10,-19.3,.5],[16.40,-21.4,.5],[16.66,-20.9,.5],[16.25,-23.4,.5],[15.60,-30.0,2.0],[15.59,-33.9,.5],[15.40,-23.2,1.0],[14.61,-28.4,.5],[15.16,-27.9,.5],[15.42,-27.7,.5],[14.42,-24.8,.5],[14.59,-20.9,1.4],[14.88,-20.6,.5],[13.91,-23.1,.5],[14.12,-20.9,.5],[14.47,-22.5,.5],[13.29,-22.4,1.8],[13.27,-23.1,.5],[12.67,-24.4,.5],[13.05,-25.9,.5],[12.31,-27.5,1.2],[12.24,-25.8,.5],[12.45,-24.6,.5],[12.92,-42.1,.5],[17.15,-5.3,1.0],[17.03,-8.9,.5],[17.49,-8.5,.5],[17.69,-9.0,.5],[18.22,-5.0,.5],[18.36,-10.4,.5],[18.17,-13.2,.5],[17.82,-13.0,.5],[17.50,-13.4,1.2],[17.30,-16.1,1.8],[17.0,-19.1,.5],[17.0,-22.3,.5],[17.12,-23.3,.5],[17.25,-24.0,1.0],[17.43,-25.5,1.2],[17.88,-26.3,1.2],[18.24,-27.0,1.2],[18.27,-27.7,.5],[18.30,-23.9,1.4],[18.59,-24.0,1.4],[18.82,-24.6,.5],[19.14,-23.9,1.4],[19.30,-25.6,.5],[17.15,-32.6,.5],[17.46,-33.3,.5],[17.92,-33.4,.5],[17.21,-36.7,.5],[16.96,-38.8,1.0],[18.46,-35.5,1.0],[19.39,-33.7,.5],[19.48,-12.4,.5],[19.61,-8.4,2.0],[19.71,-10.3,.5],[19.79,-10.6,.5],[20.24,-9.4,.5],[20.24,-13.9,.5],[20.48,-10.6,.8],[20.56,-11.1,1.6],[20.37,-11.2,.5],[20.20,-20.1,.5],[20.13,-25.7,.5],[20.42,-25.5,.5],[19.90,-30.4,1.2],[20.29,-29.9,.5],[20.49,-33.2,.5],[20.87,-34.8,1.4],[20.89,-18.1,.5],[21.04,-17.0,.5],[21.35,-17.2,.5],[21.49,-16.3,.5],[21.60,-11.9,.5],[21.51,-13.0,.5],[21.48,-13.6,.5],[20.89,-24.5,.5],[21.02,-26.6,.5],[20.84,-27.9,.5],[21.11,-29.9,.5],[21.37,-29.6,1.8],[21.48,-28.9,.5],[21.70,-29.0,.5],[21.49,-20.7,.5],[21.61,-23.4,1.4],[21.86,-30.9,.5],[21.92,-30.8,.5],[21.95,-8.9,1.2],[21.95,-10.4,1.0],[22.03,-14.7,.5],[21.84,-15.4,1.0],[21.97,-16.7,2.0],[21.97,-18.7,.5],[21.97,-19.3,.5],[22.14,-23.3,.5],[22.35,-22.7,.5],[22.09,-38.4,.5],[22.42,-15.5,.5],[22.66,-15.6,.5],[22.78,-16.8,1.2],[22.53,-12.0,.5],[22.69,-17.8,.5],[22.82,-23.2,1.6],[22.77,-28.2,2.6],[22.68,-30.8,.8],[23.09,-31.7,.5],[23.38,-30.8,.5],[23.63,-31.4,1.0],[22.84,-33.7,.5],[22.73,-41.5,.5],[22.63,-45.3,.5],[23.02,-5.6,1.2],[22.91,-6.2,.5],[23.59,-6.5,1.8],[23.58,-2.3,.5],[23.56,-9.5,1.8],[23.75,-10.5,1.2],[23.48,-11.7,.5],[23.07,-11.7,.5],[23.87,-11.6,.5],[23.92,-9.2,1.2],[23.35,-17.7,.5],[23.54,-19.9,.5],[23.89,-19.7,.5],[23.43,-23.7,2.0],[23.86,-26.7,1.4],[23.04,-22.9,.5],[22.36,-12.0,.5],[19.82,-0.5,1.4],[20.02,-0.9,1.2],[20.20,-0.7,.5],[19.44,-12.4,.5],[13.84,-4.6,.5],[14.12,-5.0,1.2],[14.47,-6.8,1.4],[15.40,-8.8,1.6],[13.95,-7.5,2.0],[14.96,-9.3,.5],[15.18,-9.7,.5],[14.78,-12.4,.5],[14.86,-16.2,.5],[15.22,-16.9,.5],[15.0,-12.7,.5],[14.80,-13.6,.5],[15.63,-13.7,.5],[15.76,-14.2,.5],[15.5,-12.4,.5],[15.3,-14.7,.5],[14.6,-15.6,.5],[14.3,-12.7,.5],[14.25,-14.1,1.0],[15.2,-8.5,.5],[14.7,-17.9,.5]];
const quakes = [...quakesWest, ...quakesMid, ...quakesUpper, ...quakesUpper2, ...quakesLower, ...quakesLower2, ...quakesEast];

// ---------- layout ----------
const W = 1027, H = 1061, L = 143, R = 876;
const P1 = [116, 483], P2 = [483, 604], P3 = [604, 910];
const font = "DejaVu Sans";
const base = {width: W, height: H, marginLeft: L, marginRight: W - R,
  style: {background: "transparent", overflow: "visible", fontFamily: font, color: "black"}};
const xs = {domain: [0, 24]};
const plain = d => String(d).replace("-", "\u2212");
const tickOnly = (ticks, anchor, size) => (anchor === "top" || anchor === "bottom")
  ? Plot.axisX(ticks, {anchor, tickSize: size, fill: "none", label: null, strokeWidth: 1.5})
  : Plot.axisY(ticks, {anchor, tickSize: size, fill: "none", label: null, strokeWidth: 1.5});

const wrap = document.getElementById("wrap");

// top panel : LOS velocity
wrap.appendChild(Plot.plot({
  ...base, marginTop: P1[0], marginBottom: H - P1[1],
  x: xs, y: {domain: [-40, 40]},
  marks: [
    Plot.ruleX(faultKm, {stroke: "#444", strokeWidth: 1, strokeDasharray: "4,3"}),
    Plot.ruleX(faultKmLight, {stroke: "#888", strokeWidth: 1, strokeDasharray: "4,3"}),
    Plot.dot(losAll, {x: d => d[0], y: d => d[1], r: 1.5, fill: "#e8221c", stroke: "none"}),
    Plot.axisY(velTicks, {anchor: "left", tickSize: 13, tickPadding: 4, fontSize: 24, label: null, strokeWidth: 1.5, tickFormat: plain}),
    tickOnly(velTicks, "right", 13),
    tickOnly(kmLabels, "top", 12),
    tickOnly(kmMinor, "top", 6),
    Plot.frame({stroke: "black", strokeWidth: 3})
  ]
}));

// middle panel : topography
wrap.appendChild(Plot.plot({
  ...base, marginTop: P2[0], marginBottom: H - P2[1],
  x: xs, y: {domain: [0, 1300]},
  marks: [
    Plot.line(elev, {x: "km", y: "m", stroke: "#e0201c", strokeWidth: 1.4}),
    tickOnly(elevMajor, "left", 12),
    tickOnly(elevMinor, "left", 6),
    Plot.axisY(elevMajor, {anchor: "right", tickSize: 12, tickPadding: 79, textAnchor: "end", fontSize: 24, label: null, strokeWidth: 1.5, tickFormat: plain}),
    tickOnly(elevMinor, "right", 6),
    tickOnly(kmLabels, "top", 12),
    tickOnly(kmMinor, "top", 6),
    Plot.frame({stroke: "black", strokeWidth: 3})
  ]
}));

// bottom panel : earthquakes
wrap.appendChild(Plot.plot({
  ...base, marginTop: P3[0], marginBottom: H - P3[1],
  x: xs, y: {domain: [-50, 0]},
  r: {type: "linear", domain: [0, 3.3], range: [0, 7.4]},
  marks: [
    Plot.dot(quakes, {x: d => d[0], y: d => d[1], r: d => d[2], fill: "#c6c6c6", stroke: "black", strokeWidth: 0.9}),
    Plot.axisY(depthLabels, {anchor: "left", tickSize: 13, tickPadding: 4, fontSize: 24, label: null, strokeWidth: 1.5, tickFormat: plain}),
    tickOnly(depthTicks, "left", 13),
    tickOnly(depthTicks, "right", 13),
    Plot.axisX(kmLabels, {anchor: "bottom", tickSize: 13, tickPadding: 9, fontSize: 24, label: null, strokeWidth: 1.5, tickFormat: plain}),
    tickOnly(kmMinor, "bottom", 7),
    tickOnly(kmLabels, "top", 12),
    tickOnly(kmMinor, "top", 6),
    Plot.frame({stroke: "black", strokeWidth: 3})
  ]
}));

// titles and axis labels
const ov = d3.select(wrap).append("svg").attr("width", W).attr("height", H)
  .attr("font-family", font).attr("fill", "black");
ov.append("text").attr("x", 511).attr("y", 37).attr("text-anchor", "middle")
  .attr("font-size", 28).attr("font-weight", "bold").text(titleText);
ov.append("text").attr("x", 507).attr("y", 79).attr("text-anchor", "middle")
  .attr("font-size", 20.5).text(subtitleText);
ov.append("text").attr("x", 509).attr("y", 1006).attr("text-anchor", "middle")
  .attr("font-size", 22.5).text(xLabel);
ov.append("text").attr("x", 507).attr("y", 1054).attr("text-anchor", "middle")
  .attr("font-size", 20.5).text(captionText);
const vlab = (t, x, y) => ov.append("text").attr("transform", `translate(${x},${y}) rotate(-90)`)
  .attr("text-anchor", "middle").attr("font-size", 22.5).text(t);
vlab(velLabel, 38, 300);
vlab(depthLabel, 38, 757);
vlab(elevLabel, 1017, 546);
</script></body></html>
